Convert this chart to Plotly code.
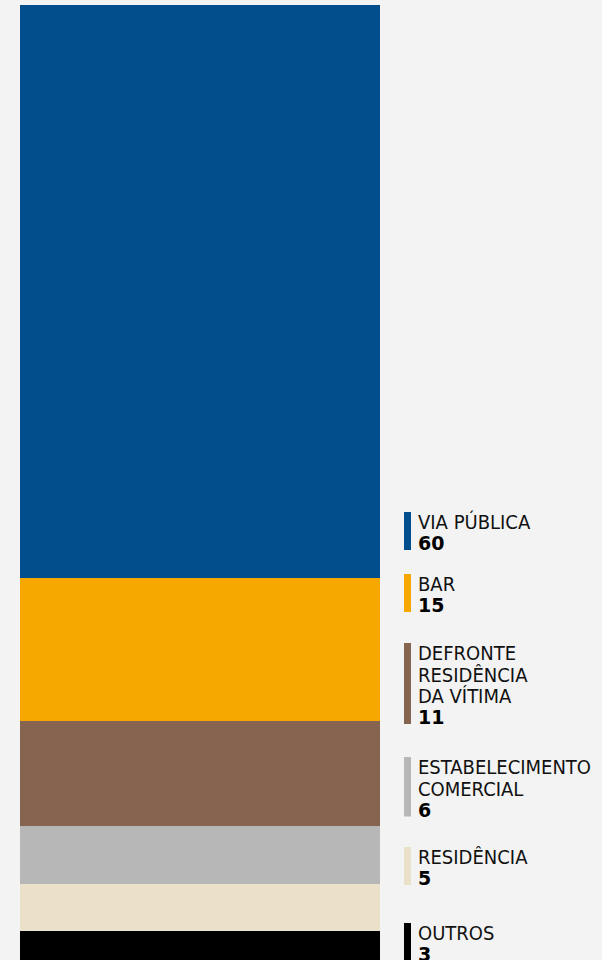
import plotly.graph_objects as go

# dados: local do crime (de cima para baixo) e quantidade
locais = ['VIA PÚBLICA', 'BAR', 'DEFRONTE<br>RESIDÊNCIA<br>DA VÍTIMA',
          'ESTABELECIMENTO<br>COMERCIAL', 'RESIDÊNCIA', 'OUTROS']
valores = [60, 15, 11, 6, 5, 3]
cores = ['#024e8c', '#f6a800', '#86644f', '#b7b7b7', '#ebe0ca', '#000000']

# topo (px) da primeira linha de cada rotulo na coluna da direita
topo_rotulos = [514, 576, 645, 759, 849, 925]
passo = 21.5  # distancia entre linhas

W, H = 602, 960
ML, MT = 20, 5
FONTE = "'DejaVu Sans Condensed', 'DejaVu Sans', sans-serif"


def px_x(p):
    return (p - ML) / (W - ML)


def px_y(p):
    return (H - p) / (H - MT)


fig = go.Figure()

# barra empilhada: o primeiro trace fica embaixo, entao inverte a ordem
for nome, v, c in zip(locais[::-1], valores[::-1], cores[::-1]):
    fig.add_trace(go.Bar(x=['total'], y=[v], name=nome, marker_color=c,
                         marker_line_width=0, width=1, hoverinfo='skip'))

for nome, v, c, t in zip(locais, valores, cores, topo_rotulos):
    linhas = nome.split('<br>')
    for i, linha in enumerate(linhas):
        fig.add_annotation(text=linha, xref='paper', yref='paper',
                           x=px_x(417), y=px_y(t + i * passo + 8), xanchor='left', yanchor='middle',
                           showarrow=False, borderpad=0,
                           font=dict(family=FONTE, size=20, color='#111111'))
    tn = t + len(linhas) * passo + 0.5
    fig.add_annotation(text=str(v), xref='paper', yref='paper',
                       x=px_x(417), y=px_y(tn + 7), xanchor='left', yanchor='middle',
                       showarrow=False, borderpad=0,
                       font=dict(family='DejaVu Sans', size=19, color='#000000', weight=900))
    fig.add_shape(type='rect', xref='paper', yref='paper',
                  x0=px_x(404), x1=px_x(411), y0=px_y(tn + 14), y1=px_y(t - 2),
                  fillcolor=c, line_width=0)

fig.update_layout(
    width=W, height=H,
    barmode='stack', bargap=0,
    showlegend=False,
    margin=dict(l=ML, r=0, t=MT, b=0),
    plot_bgcolor='#f3f3f3',
    paper_bgcolor='#f3f3f3',
    xaxis=dict(domain=[0, 360 / (W - ML)], range=[-0.5, 0.5], visible=False, fixedrange=True),
    yaxis=dict(range=[0, 100], visible=False, fixedrange=True),
)

fig.write_html('out.html', config={'displayModeBar': False},
               post_script="document.body.style.margin='0';document.body.style.background='#f3f3f3';")
